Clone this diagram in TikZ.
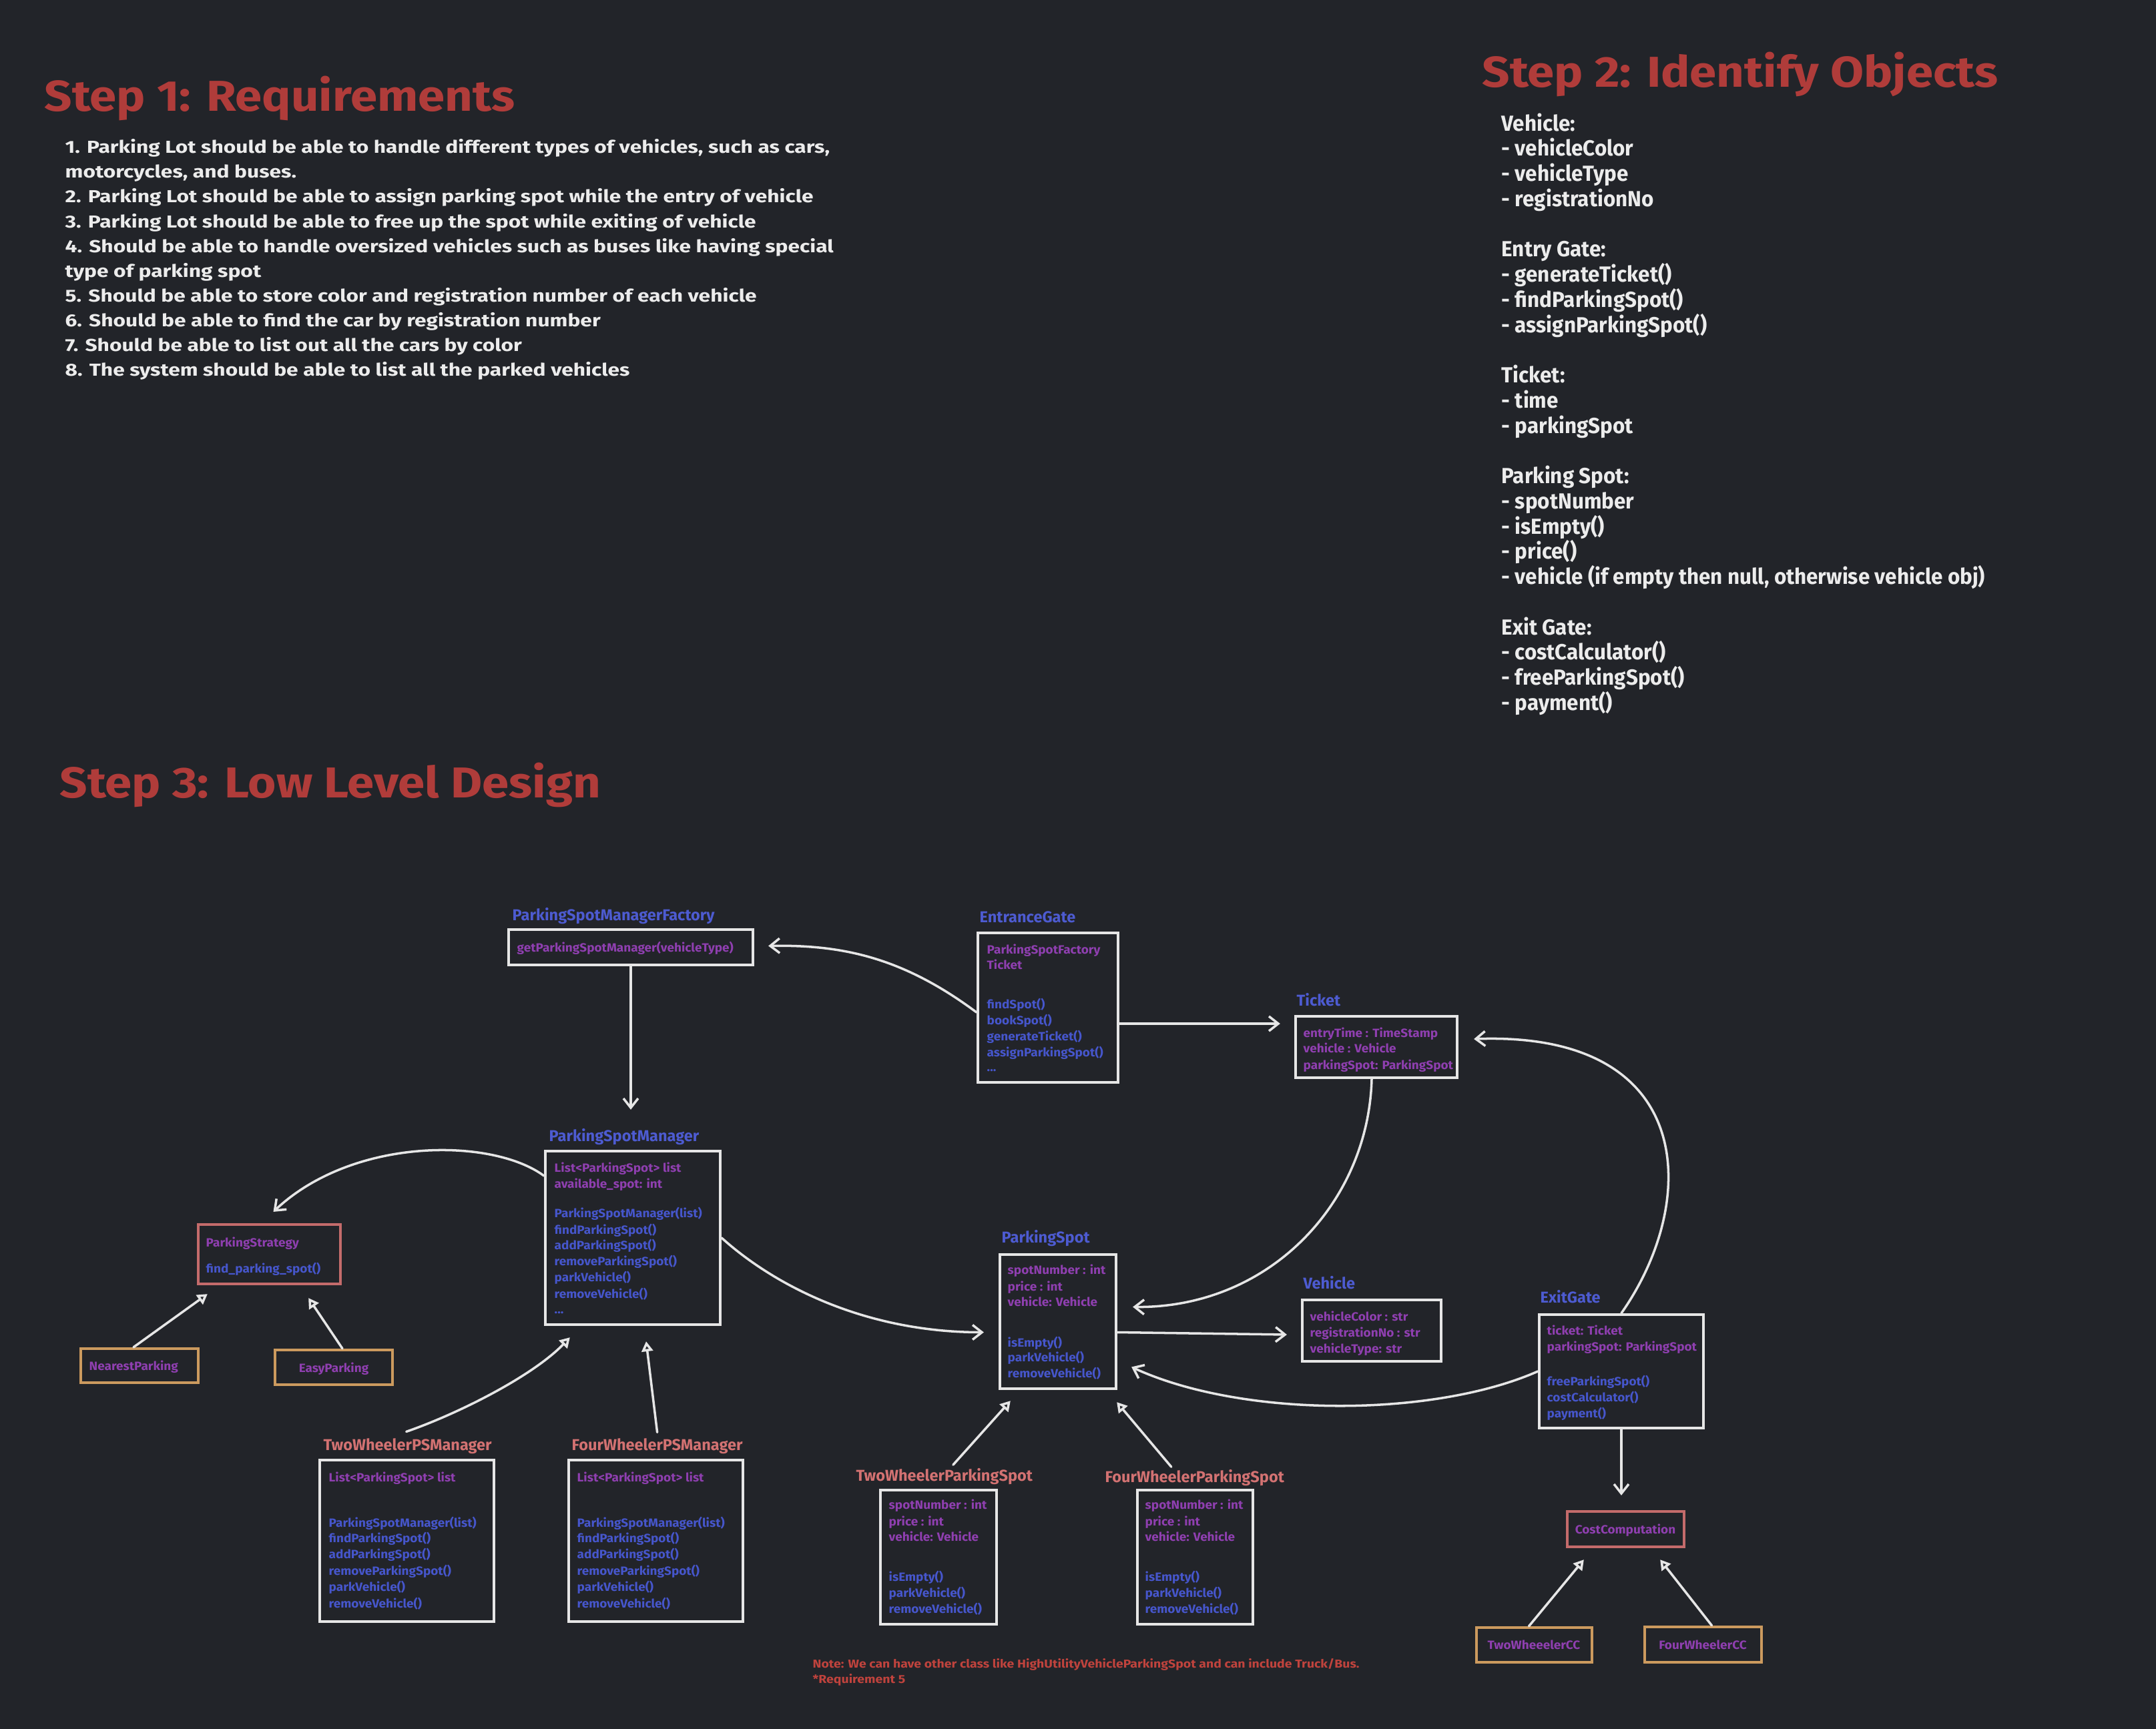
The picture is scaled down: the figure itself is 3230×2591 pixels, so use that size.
\documentclass[tikz,border=0pt]{standalone}
\usepackage{fontspec}
\setmainfont{Fira Sans}
\newfontfamily\titlefont[FakeStretch=1.12]{Fira Sans}
\newfontfamily\reqfont[FakeStretch=1.22]{Fira Sans}
\newfontfamily\objfont[FakeStretch=0.96]{Fira Sans}
\newfontfamily\boxfont[FakeStretch=1.06]{Fira Sans}
\newfontfamily\notefont[FakeStretch=1.13]{Fira Sans}
\usetikzlibrary{arrows.meta,fit}
\definecolor{bg}{HTML}{222429}
\definecolor{linec}{HTML}{E6E6E6}
\definecolor{titlered}{HTML}{B03C3A}
\definecolor{txtwhite}{HTML}{ECECEC}
\definecolor{lblblue}{HTML}{4D5BD1}
\definecolor{attrpurple}{HTML}{8F3FB0}
\definecolor{methblue}{HTML}{4656CC}
\definecolor{salmon}{HTML}{D37272}
\definecolor{redbord}{HTML}{C46B6B}
\definecolor{orbord}{HTML}{CC9A5E}
\definecolor{notered}{HTML}{C0433D}
\begin{document}
\begin{tikzpicture}[x=0.01cm,y=0.01cm,
  title/.style={anchor=base west, inner sep=0, text=titlered, font=\titlefont\fontsize{18.4}{22}\selectfont\bfseries},
  req/.style={anchor=base west, inner sep=0, text=txtwhite, font=\reqfont\fontsize{7.4}{9}\selectfont\bfseries},
  obj/.style={anchor=base west, inner sep=0, text=txtwhite, font=\objfont\fontsize{9.3}{11}\selectfont\bfseries},
  box/.style={draw=linec, line width=1.2pt, inner sep=0, rectangle},
  redbox/.style={box, draw=redbord},
  orbox/.style={box, draw=orbord},
  lbl/.style={anchor=base west, inner sep=0, text=lblblue, font=\fontsize{6.7}{8}\selectfont\bfseries},
  slbl/.style={lbl, text=salmon},
  attrtxt/.style={anchor=base west, inner sep=0, text=attrpurple, font=\boxfont\fontsize{5.1}{6}\selectfont\bfseries},
  methtxt/.style={attrtxt, text=methblue},
  notetxt/.style={anchor=base west, inner sep=0, text=notered, font=\notefont\fontsize{4.9}{6}\selectfont\bfseries},
  conn/.style={draw=linec, line width=1pt, line cap=round, -{Straight Barb[length=1.4mm,width=2.2mm]}},
  inh/.style={draw=linec, line width=1pt, line cap=round, -{Triangle[open,length=1.5mm,width=1.7mm]}}
]
\useasboundingbox (0,0) rectangle (3230,-2591);
\fill[bg] (0,0) rectangle (3230,-2591);

% ---------- titles ----------
\node[title] (t1) at (66,-167) {Step 1: Requirements};
\node[title] (t2) at (2220,-131) {Step 2: Identify Objects};
\node[title] (t3) at (89,-1195) {Step 3: Low Level Design};

% ---------- requirements ----------
\foreach \s [count=\i from 0] in {
 {1. Parking Lot should be able to handle different types of vehicles, such as cars,},
 {motorcycles, and buses.},
 {2. Parking Lot should be able to assign parking spot while the entry of vehicle},
 {3. Parking Lot should be able to free up the spot while exiting of vehicle},
 {4. Should be able to handle oversized vehicles such as buses like having special},
 {type of parking spot},
 {5. Should be able to store color and registration number of each vehicle},
 {6. Should be able to find the car by registration number},
 {7. Should be able to list out all the cars by color},
 {8. The system should be able to list all the parked vehicles}}
  \node[req] (req\i) at (97,{-230-37*\i}) {\s};

% ---------- objects ----------
\foreach \k/\s in {0/Vehicle:, 1/- vehicleColor, 2/- vehicleType, 3/- registrationNo,
 5/Entry Gate:, 6/- generateTicket(), 7/- findParkingSpot(), 8/- assignParkingSpot(),
 10/Ticket:, 11/- time, 12/- parkingSpot,
 14/Parking Spot:, 15/- spotNumber, 16/- isEmpty(), 17/- price(),
 18/{- vehicle (if empty then null, otherwise vehicle obj)},
 20/Exit Gate:, 21/- costCalculator(), 22/- freeParkingSpot(), 23/- payment()}
  \node[obj] (obj\k) at (2249,{-196-37.75*\k}) {\s};

% ---------- ParkingSpotManagerFactory ----------
\node[lbl] (faclbl) at (767,-1379) {ParkingSpotManagerFactory};
\node[box, fit={(762,-1393) (1128,-1446)}] (fac) {};
\node[attrtxt] (fac1) at (774,-1426) {getParkingSpotManager(vehicleType)};

% ---------- EntranceGate ----------
\node[lbl] (eglbl) at (1467,-1382) {EntranceGate};
\node[box, fit={(1465,-1398) (1675,-1622)}] (eg) {};
\node[attrtxt] (eg1) at (1478,-1429) {ParkingSpotFactory};
\node[attrtxt] (eg2) at (1478,-1452) {Ticket};
\node[methtxt] (eg3) at (1478,-1511) {findSpot()};
\node[methtxt] (eg4) at (1478,-1535) {bookSpot()};
\node[methtxt] (eg5) at (1478,-1559) {generateTicket()};
\node[methtxt] (eg6) at (1478,-1583) {assignParkingSpot()};
\node[methtxt] (eg7) at (1478,-1605) {...};

% ---------- Ticket ----------
\node[lbl] (tklbl) at (1942,-1507) {Ticket};
\node[box, fit={(1941,-1523) (2183,-1615)}] (tk) {};
\node[attrtxt] (tk1) at (1952,-1554) {entryTime : TimeStamp};
\node[attrtxt] (tk2) at (1952,-1577) {vehicle : Vehicle};
\node[attrtxt] (tk3) at (1952,-1602) {parkingSpot: ParkingSpot};

% ---------- ParkingSpotManager ----------
\node[lbl] (psmlbl) at (822,-1710) {ParkingSpotManager};
\node[box, fit={(817,-1725) (1079,-1985)}] (psm) {};
\node[attrtxt] (psm1) at (830,-1756) {List<ParkingSpot> list};
\node[attrtxt] (psm2) at (830,-1780) {available\_spot: int};
\node[methtxt] (psm3) at (830,-1824) {ParkingSpotManager(list)};
\node[methtxt] (psm4) at (830,-1849) {findParkingSpot()};
\node[methtxt] (psm5) at (830,-1872) {addParkingSpot()};
\node[methtxt] (psm6) at (830,-1896) {removeParkingSpot()};
\node[methtxt] (psm7) at (830,-1920) {parkVehicle()};
\node[methtxt] (psm8) at (830,-1945) {removeVehicle()};
\node[methtxt] (psm9) at (830,-1968) {...};

% ---------- ParkingStrategy ----------
\node[redbox, fit={(297,-1835) (510,-1924)}] (st) {};
\node[attrtxt] (st1) at (308,-1868) {ParkingStrategy};
\node[methtxt] (st2) at (308,-1907) {find\_parking\_spot()};
\node[orbox, fit={(121,-2021) (297,-2072)}] (np) {};
\node[attrtxt] (np1) at (133,-2053) {NearestParking};
\node[orbox, fit={(412,-2023) (588,-2075)}] (ep) {};
\node[attrtxt, anchor=base] (ep1) at (500,-2056) {EasyParking};

% ---------- PS managers ----------
\node[slbl] (twpsmlbl) at (484,-2173) {TwoWheelerPSManager};
\node[box, fit={(479,-2188) (740,-2430)}] (twpsm) {};
\node[attrtxt] (twpsm1) at (492,-2220) {List<ParkingSpot> list};
\node[methtxt] (twpsm2) at (492,-2288) {ParkingSpotManager(list)};
\node[methtxt] (twpsm3) at (492,-2311) {findParkingSpot()};
\node[methtxt] (twpsm4) at (492,-2335) {addParkingSpot()};
\node[methtxt] (twpsm5) at (492,-2360) {removeParkingSpot()};
\node[methtxt] (twpsm6) at (492,-2384) {parkVehicle()};
\node[methtxt] (twpsm7) at (492,-2409) {removeVehicle()};

\node[slbl] (fwpsmlbl) at (856,-2173) {FourWheelerPSManager};
\node[box, fit={(852,-2188) (1113,-2430)}] (fwpsm) {};
\node[attrtxt] (fwpsm1) at (864,-2220) {List<ParkingSpot> list};
\node[methtxt] (fwpsm2) at (864,-2288) {ParkingSpotManager(list)};
\node[methtxt] (fwpsm3) at (864,-2311) {findParkingSpot()};
\node[methtxt] (fwpsm4) at (864,-2335) {addParkingSpot()};
\node[methtxt] (fwpsm5) at (864,-2360) {removeParkingSpot()};
\node[methtxt] (fwpsm6) at (864,-2384) {parkVehicle()};
\node[methtxt] (fwpsm7) at (864,-2409) {removeVehicle()};

% ---------- ParkingSpot ----------
\node[lbl] (pslbl) at (1500,-1862) {ParkingSpot};
\node[box, fit={(1498,-1880) (1672,-2081)}] (ps) {};
\node[attrtxt] (ps1) at (1509,-1909) {spotNumber : int};
\node[attrtxt] (ps2) at (1509,-1934) {price : int};
\node[attrtxt] (ps3) at (1509,-1957) {vehicle: Vehicle};
\node[methtxt] (ps4) at (1509,-2018) {isEmpty()};
\node[methtxt] (ps5) at (1509,-2040) {parkVehicle()};
\node[methtxt] (ps6) at (1509,-2064) {removeVehicle()};

% ---------- Vehicle ----------
\node[lbl] (vhlbl) at (1952,-1931) {Vehicle};
\node[box, fit={(1951,-1948) (2159,-2040)}] (vh) {};
\node[attrtxt] (vh1) at (1962,-1979) {vehicleColor : str};
\node[attrtxt] (vh2) at (1962,-2003) {registrationNo : str};
\node[attrtxt] (vh3) at (1962,-2027) {vehicleType: str};

% ---------- ExitGate ----------
\node[lbl] (exlbl) at (2307,-1952) {ExitGate};
\node[box, fit={(2306,-1970) (2552,-2140)}] (ex) {};
\node[attrtxt] (ex1) at (2317,-2000) {ticket: Ticket};
\node[attrtxt] (ex2) at (2317,-2024) {parkingSpot: ParkingSpot};
\node[methtxt] (ex3) at (2317,-2076) {freeParkingSpot()};
\node[methtxt] (ex4) at (2317,-2100) {costCalculator()};
\node[methtxt] (ex5) at (2317,-2124) {payment()};

% ---------- CostComputation ----------
\node[redbox, fit={(2348,-2265) (2523,-2318)}] (cc) {};
\node[attrtxt, anchor=base] (cc1) at (2435,-2298) {CostComputation};
\node[orbox, fit={(2212,-2439) (2385,-2491)}] (tcc) {};
\node[attrtxt, anchor=base] (tcc1) at (2298,-2471) {TwoWheeelerCC};
\node[orbox, fit={(2464,-2438) (2639,-2491)}] (fcc) {};
\node[attrtxt, anchor=base] (fcc1) at (2551,-2471) {FourWheelerCC};

% ---------- parking spot subclasses ----------
\node[slbl] (twpslbl) at (1282,-2219) {TwoWheelerParkingSpot};
\node[box, fit={(1319,-2233) (1493,-2434)}] (twps) {};
\node[attrtxt] (twps1) at (1331,-2261) {spotNumber : int};
\node[attrtxt] (twps2) at (1331,-2286) {price : int};
\node[attrtxt] (twps3) at (1331,-2309) {vehicle: Vehicle};
\node[methtxt] (twps4) at (1331,-2369) {isEmpty()};
\node[methtxt] (twps5) at (1331,-2393) {parkVehicle()};
\node[methtxt] (twps6) at (1331,-2417) {removeVehicle()};

\node[slbl] (fwpslbl) at (1655,-2221) {FourWheelerParkingSpot};
\node[box, fit={(1704,-2233) (1877,-2434)}] (fwps) {};
\node[attrtxt] (fwps1) at (1715,-2261) {spotNumber : int};
\node[attrtxt] (fwps2) at (1715,-2286) {price : int};
\node[attrtxt] (fwps3) at (1715,-2309) {vehicle: Vehicle};
\node[methtxt] (fwps4) at (1715,-2369) {isEmpty()};
\node[methtxt] (fwps5) at (1715,-2393) {parkVehicle()};
\node[methtxt] (fwps6) at (1715,-2417) {removeVehicle()};

% ---------- note ----------
\node[notetxt] (note1) at (1217,-2499) {Note: We can have other class like HighUtilityVehicleParkingSpot and can include Truck/Bus.};
\node[notetxt] (note2) at (1217,-2522) {*Requirement 5};

% ---------- connectors ----------
\draw[conn] ([shift={(0,-7)}]eg.west) .. controls +(-110,82) and +(111,2) .. ([shift={(21,2)}]fac.east);
\draw[conn, shorten >=0.6cm] (fac.south) -- (fac.south |- psm.north);
\draw[conn, shorten >=0.21cm] ([shift={(0,-24)}]eg.east) -- ([shift={(0,-24)}]eg.east -| tk.west);
\draw[conn] ([shift={(-7,0)}]tk.south) .. controls +(-5,-185) and +(205,-2) .. ([shift={(23,22)}]ps.east);
\draw[conn] (ex.north) .. controls +(118,168) and +(335,12) .. ([shift={(23,12)}]tk.east);
\draw[conn] (ex.west) .. controls +(-156,-69) and +(167,-77) .. ([shift={(21,-68)}]ps.east);
\draw[conn] ([shift={(0,-16)}]ps.east) -- ([shift={(-21,-6)}]vh.west);
\draw[conn] (psm.east) .. controls +(81,-73) and +(-176,0) .. ([shift={(-22,-16)}]ps.west);
\draw[conn] ([shift={(0,93)}]psm.west) .. controls +(-77,57) and +(120,113) .. ([shift={(6,17)}]st.north);
\draw[inh] ([shift={(-9,0)}]np.north) -- ([shift={(16,-13)}]st.south west);
\draw[inh] ([shift={(13,0)}]ep.north) -- ([shift={(-50,-19)}]st.south east);
\draw[inh] ([shift={(-2,9)}]twpsmlbl.north) .. controls +(78,27) and +(-56,-58) .. ([shift={(39,-17)}]psm.south west);
\draw[inh] ([shift={(0,8)}]fwpsmlbl.north) -- ([shift={(20,-23)}]psm.south);
\draw[inh] ([shift={(13,4)}]twpslbl.north) -- ([shift={(18,-16)}]ps.south west);
\draw[inh] ([shift={(-35,3)}]fwpslbl.north) -- ([shift={(-1,-18)}]ps.south east);
\draw[conn, shorten >=0.22cm] (ex.south) -- (ex.south |- cc.north);
\draw[inh] ([shift={(-8,0)}]tcc.north) -- ([shift={(27,-17)}]cc.south west);
\draw[inh] ([shift={(13,0)}]fcc.north) -- ([shift={(-38,-17)}]cc.south east);
\end{tikzpicture}
\end{document}
